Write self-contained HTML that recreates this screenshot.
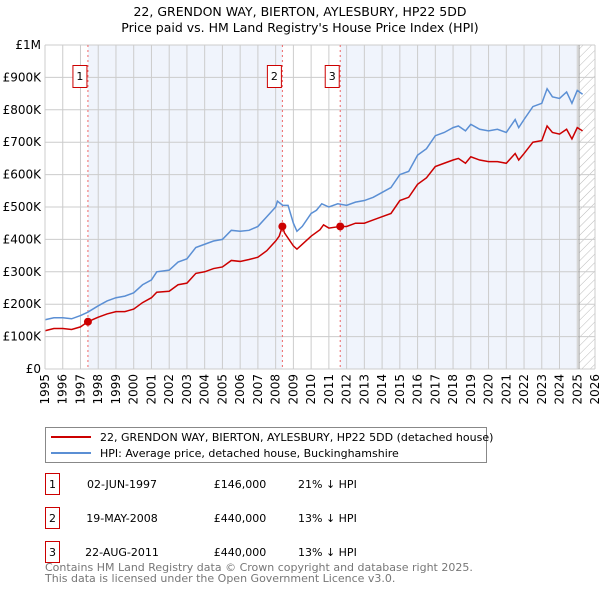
<!DOCTYPE html>
<html><head><meta charset="utf-8"><style>
body{margin:0;background:#fff;font-family:"Liberation Sans","DejaVu Sans",sans-serif;}
svg text{font-family:"DejaVu Sans","Liberation Sans",sans-serif;}
</style></head><body>
<svg width="600" height="590" viewBox="0 0 600 590">
<defs><pattern id="hatch" width="6" height="6" patternUnits="userSpaceOnUse" patternTransform="rotate(45)"><line x1="0" y1="0" x2="0" y2="6" stroke="#bbb" stroke-width="1"/></pattern></defs>
<text x="300" y="16" text-anchor="middle" font-size="12.5">22, GRENDON WAY, BIERTON, AYLESBURY, HP22 5DD</text>
<text x="300" y="32" text-anchor="middle" font-size="12.5">Price paid vs. HM Land Registry's House Price Index (HPI)</text>
<g id="plot"></g>
<g>
<rect x="45.5" y="427.5" width="441" height="35" fill="#fff" stroke="#888"/>
<line x1="51" y1="437" x2="91" y2="437" stroke="#cc0000" stroke-width="2"/>
<text x="100" y="441" font-size="11">22, GRENDON WAY, BIERTON, AYLESBURY, HP22 5DD (detached house)</text>
<line x1="51" y1="453" x2="91" y2="453" stroke="#5b8fd4" stroke-width="2"/>
<text x="100" y="457" font-size="11">HPI: Average price, detached house, Buckinghamshire</text>
</g>
<g font-size="11">
<rect x="45.5" y="473.5" width="14" height="21" fill="#fff" stroke="#cc0000"/><text x="52.5" y="488" text-anchor="middle">1</text>
<text x="122" y="488" text-anchor="middle">02-JUN-1997</text><text x="240" y="488" text-anchor="middle">£146,000</text><text x="298" y="488">21% ↓ HPI</text>
<rect x="45.5" y="507.5" width="14" height="21" fill="#fff" stroke="#cc0000"/><text x="52.5" y="522" text-anchor="middle">2</text>
<text x="122" y="522" text-anchor="middle">19-MAY-2008</text><text x="240" y="522" text-anchor="middle">£440,000</text><text x="298" y="522">13% ↓ HPI</text>
<rect x="45.5" y="541.5" width="14" height="21" fill="#fff" stroke="#cc0000"/><text x="52.5" y="556" text-anchor="middle">3</text>
<text x="122" y="556" text-anchor="middle">22-AUG-2011</text><text x="240" y="556" text-anchor="middle">£440,000</text><text x="298" y="556">13% ↓ HPI</text>
</g>
<text x="45" y="571" font-size="11" fill="#777">Contains HM Land Registry data © Crown copyright and database right 2025.</text>
<text x="45" y="582" font-size="11" fill="#777">This data is licensed under the Open Government Licence v3.0.</text>
</svg>
<script>
const hpiYears=[1995,1995.5,1996,1996.5,1997,1997.4,1998,1998.5,1999,1999.5,2000,2000.5,2001,2001.3,2002,2002.5,2003,2003.5,2004,2004.5,2005,2005.5,2006,2006.5,2007,2007.5,2008,2008.1,2008.4,2008.7,2009,2009.2,2009.5,2010,2010.3,2010.6,2011,2011.5,2012,2012.5,2013,2013.5,2014,2014.5,2015,2015.5,2016,2016.5,2017,2017.5,2018,2018.3,2018.7,2019,2019.5,2020,2020.5,2021,2021.5,2021.7,2022,2022.5,2023,2023.3,2023.6,2024,2024.4,2024.7,2025,2025.3];
const hpiValues=[152,158,158,155,165,175,195,210,220,225,235,260,275,300,305,330,340,375,385,395,400,428,425,428,440,470,500,518,505,505,450,425,440,480,490,510,500,510,505,515,520,530,545,560,600,610,660,680,720,730,745,750,735,755,740,735,740,730,770,745,770,810,820,865,840,835,855,820,860,848];
const priceYears=[1995,1995.5,1996,1996.5,1997,1997.42,1998,1998.5,1999,1999.5,2000,2000.5,2001,2001.3,2002,2002.5,2003,2003.5,2004,2004.5,2005,2005.5,2006,2006.5,2007,2007.5,2008,2008.2,2008.38,2008.5,2009,2009.2,2009.5,2010,2010.5,2010.7,2011,2011.64,2012,2012.5,2013,2013.5,2014,2014.5,2015,2015.5,2016,2016.5,2017,2017.5,2018,2018.3,2018.7,2019,2019.5,2020,2020.5,2021,2021.5,2021.7,2022,2022.5,2023,2023.3,2023.6,2024,2024.4,2024.7,2025,2025.3];
const priceValues=[118,125,125,122,130,146,160,170,177,177,185,205,220,237,240,260,265,295,300,310,315,335,332,338,345,365,395,410,440,420,380,370,385,410,430,445,435,440,440,450,450,460,470,480,520,530,570,590,625,635,645,650,635,655,645,640,640,635,665,645,665,700,705,750,730,725,740,710,745,735];
const saleYears=[1997.42,2008.38,2011.64];
const saleValues=[146,440,440];
const saleLabels=["1","2","3"];
const yTicks=[0,100,200,300,400,500,600,700,800,900,1000];
const yTickLabels=["£0","£100K","£200K","£300K","£400K","£500K","£600K","£700K","£800K","£900K","£1M"];
const xTicks=[1995,1996,1997,1998,1999,2000,2001,2002,2003,2004,2005,2006,2007,2008,2009,2010,2011,2012,2013,2014,2015,2016,2017,2018,2019,2020,2021,2022,2023,2024,2025,2026];

const X0=45,X1=595,Y0=369,Y1=45;
const xs=y=>X0+(y-1995)/(2026-1995)*(X1-X0);
const ys=v=>Y0-v/1000*(Y0-Y1);
const NS="http://www.w3.org/2000/svg";
const g=document.getElementById('plot');
function mk(t,a){const e=document.createElementNS(NS,t);for(const k in a)e.setAttribute(k,a[k]);g.appendChild(e);return e;}
let e;
e=mk('rect',{x:xs(saleYears[0]),y:Y1,width:xs(saleYears[1])-xs(saleYears[0]),height:Y0-Y1,fill:'#f0f4fc'});


e=mk('rect',{x:xs(saleYears[2]),y:Y1,width:xs(2025)-xs(saleYears[2]),height:Y0-Y1,fill:'#f0f4fc'});


e=mk('rect',{x:xs(2025.1),y:Y1,width:X1-xs(2025.1),height:Y0-Y1,fill:'url(#hatch)'});


yTicks.forEach((v,i)=>{
 e=mk('line',{x1:X0,x2:X1,y1:ys(v),y2:ys(v),stroke:'#ccc','stroke-width':1});
 
 
 e=mk('text',{x:X0-4,y:ys(v)+4,'text-anchor':'end','font-size':'12'});
 e.textContent=yTickLabels[i];
 
 
});
xTicks.forEach(y=>{
 e=mk('line',{x1:xs(y),x2:xs(y),y1:Y1,y2:Y0,stroke:'#ccc','stroke-width':1});
 
 
 e=mk('text',{x:0,y:0,'text-anchor':'end','font-size':'12',transform:`translate(${xs(y)+4},${Y0+5}) rotate(-90)`});
 e.textContent=y;
 
 
});
e=mk('line',{x1:xs(2025.1),x2:xs(2025.1),y1:Y1,y2:Y0,stroke:'#999','stroke-width':1});


saleYears.forEach((y,i)=>{
 e=mk('line',{x1:xs(y),x2:xs(y),y1:Y1,y2:Y0,stroke:'#e66','stroke-width':1,'stroke-dasharray':'2,3'});
 
 
 e=mk('rect',{x:xs(y)-15,y:65.5,width:14,height:22,fill:'#fff',stroke:'#cc0000'});
 
 
 e=mk('text',{x:xs(y)-8,y:80,'text-anchor':'middle','font-size':'11'});
 e.textContent=saleLabels[i];
 
 
});
e=mk('polyline',{points:hpiYears.map((y,i)=>xs(y)+','+ys(hpiValues[i])).join(' '),fill:'none',stroke:'#5b8fd4','stroke-width':1.5});


e=mk('polyline',{points:priceYears.map((y,i)=>xs(y)+','+ys(priceValues[i])).join(' '),fill:'none',stroke:'#cc0000','stroke-width':1.5});


saleYears.forEach((y,i)=>{
 e=mk('circle',{cx:xs(y),cy:ys(saleValues[i]),r:4,fill:'#cc0000'});
 
 
});
e=mk('line',{x1:X0,x2:X0,y1:Y1,y2:Y0,stroke:'#ccc'});


</script>
</body></html>
